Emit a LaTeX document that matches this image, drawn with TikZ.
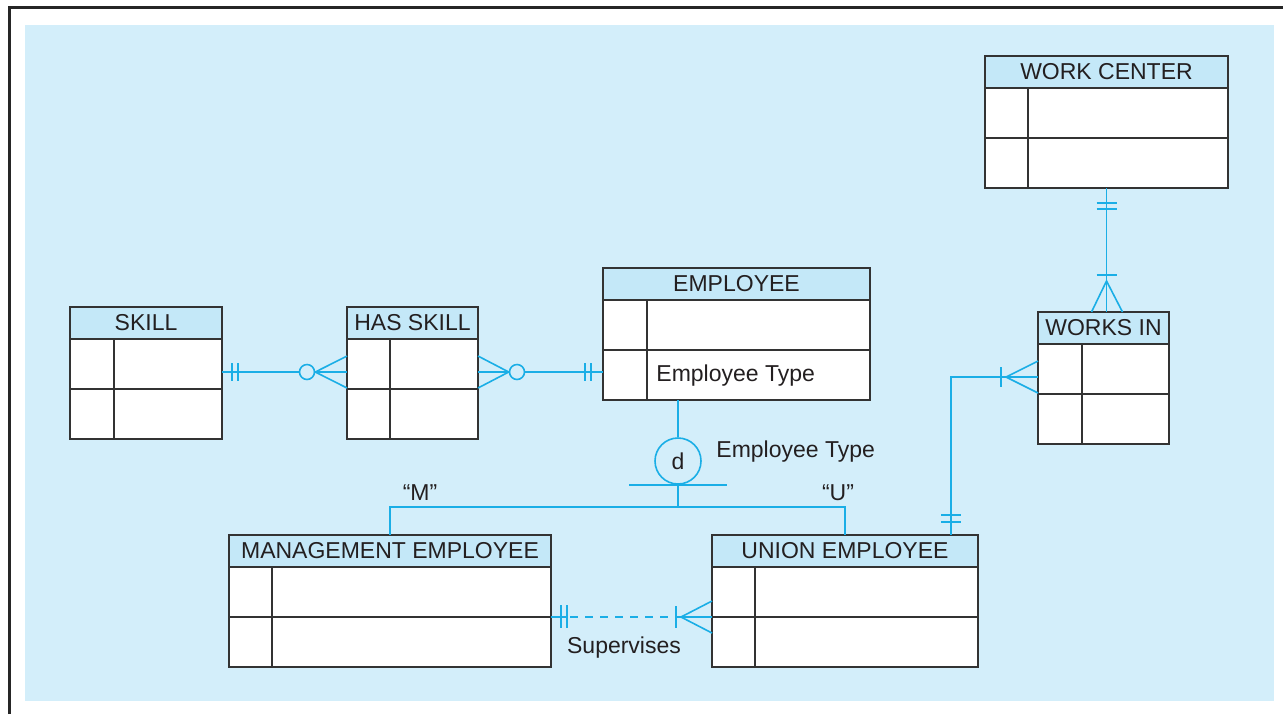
\documentclass[tikz,border=0pt]{standalone}
\usepackage{fontspec}
\setmainfont{Liberation Sans}
\usetikzlibrary{calc,positioning}

\definecolor{bgblue}{RGB}{211,238,250}
\definecolor{headblue}{RGB}{196,232,248}
\definecolor{relcyan}{RGB}{26,174,230}
\definecolor{boxgray}{RGB}{51,51,51}
\definecolor{txtgray}{RGB}{35,31,32}

\tikzset{
  enthead/.style={draw=boxgray, fill=headblue, line width=0.8pt, inner sep=0pt,
    outer sep=0pt, minimum height=16pt, text=txtgray},
  entbody/.style={draw=boxgray, fill=white, line width=0.8pt, inner sep=0pt,
    outer sep=0pt, minimum height=50pt},
  entline/.style={draw=boxgray, line width=0.8pt},
  rel/.style={draw=relcyan, line width=0.8pt},
  optcirc/.style={circle, draw=relcyan, fill=bgblue, line width=0.8pt,
    inner sep=0pt, minimum size=7.5pt},
  dcirc/.style={circle, draw=relcyan, fill=bgblue, line width=0.8pt,
    inner sep=0pt, minimum size=23pt, text=txtgray},
  lbl/.style={inner sep=0pt, text=txtgray}
}

% entity box: name, left x, top y, width, key column, title
\newcommand\entity[6]{%
  \node[enthead, minimum width=#4*0.5pt, anchor=north west] (#1) at (#2,#3) {#6};
  \node[entbody, minimum width=#4*0.5pt, anchor=north] (#1-b) at (#1.south) {};
  \draw[entline] (#1-b.west) -- (#1-b.east);
  \draw[entline] ($(#1-b.north west)+(#5,0)$) -- ($(#1-b.south west)+(#5,0)$);
}

\begin{document}
\begin{tikzpicture}[x=0.5pt, y=-0.5pt, font=\fontsize{11.5}{13}\selectfont,
  line cap=butt]
  \useasboundingbox (0,0) rectangle (1283,714);
  \fill[bgblue] (25,25) rectangle (1274,701);
  \draw[line width=1.5pt, black!85] (9,714) -- (9,7) -- (1283,7);

  % entities
  \entity{wc}{985}{56}{243}{43}{WORK CENTER}
  \entity{emp}{603}{268}{267}{44}{EMPLOYEE}
  \entity{skill}{70}{307}{152}{44}{SKILL}
  \entity{hs}{347}{307}{131}{43}{HAS SKILL}
  \entity{wi}{1038}{312}{131}{44}{WORKS IN}
  \entity{me}{229}{535}{322}{43}{MANAGEMENT EMPLOYEE}
  \entity{ue}{712}{535}{266}{43}{UNION EMPLOYEE}
  \node[lbl, anchor=west] (emptype) at (656,376) {Employee Type};

  % SKILL -- HAS SKILL
  \coordinate (y1) at (0,372);
  \coordinate (c1a) at (skill-b.east |- y1);
  \coordinate (c1b) at (hs-b.west |- y1);
  \node[optcirc] (o1) at ($(c1a)+(85,0)$) {};
  \draw[rel] (c1a) -- (o1.west);
  \draw[rel] ($(c1a)+(10,-9)$) -- ($(c1a)+(10,9)$);
  \draw[rel] ($(c1a)+(16,-9)$) -- ($(c1a)+(16,9)$);
  \draw[rel] ($(c1b)+(0,-16)$) -- (o1.east) -- ($(c1b)+(0,16)$);
  \draw[rel] (o1.east) -- (c1b);

  % HAS SKILL -- EMPLOYEE
  \coordinate (c2a) at (hs-b.east |- y1);
  \coordinate (c2b) at (emp-b.west |- y1);
  \node[optcirc] (o2) at ($(c2a)+(39,0)$) {};
  \draw[rel] ($(c2a)+(0,-16)$) -- (o2.west) -- ($(c2a)+(0,16)$);
  \draw[rel] (c2a) -- (o2.west);
  \draw[rel] (o2.east) -- (c2b);
  \draw[rel] ($(c2b)+(-18,-9)$) -- ($(c2b)+(-18,9)$);
  \draw[rel] ($(c2b)+(-12,-9)$) -- ($(c2b)+(-12,9)$);

  % subtypes of EMPLOYEE
  \node[dcirc] (d) at (678,461) {d};
  \draw[rel] (d.north) -- (d.north |- emp-b.south);
  \draw[rel] ($(d.south)+(-49,0)$) -- ($(d.south)+(49,0)$);
  \coordinate (split) at ($(d.south)+(0,22)$);
  \draw[rel] (d.south) -- (split);
  \draw[rel] (me.north) |- (split) -| (ue.north);
  \node[lbl, anchor=west] (dtype) at (716,452) {Employee Type};
  \node[lbl] (mval) at (420,493) {“M”};
  \node[lbl] (uval) at (838,493) {“U”};

  % WORK CENTER -- WORKS IN
  \coordinate (c4a) at (wc-b.south);
  \coordinate (c4b) at (wc-b.south |- wi.north);
  \draw[rel] (c4a) -- (c4b);
  \draw[rel] ($(c4a)+(-10,15)$) -- ($(c4a)+(10,15)$);
  \draw[rel] ($(c4a)+(-10,21)$) -- ($(c4a)+(10,21)$);
  \draw[rel] ($(c4b)+(-10,-37)$) -- ($(c4b)+(10,-37)$);
  \draw[rel] ($(c4b)+(-15,0)$) -- ($(c4b)+(0,-31)$) -- ($(c4b)+(16,0)$);

  % UNION EMPLOYEE -- WORKS IN
  \coordinate (y5) at (951,377);
  \coordinate (c5a) at (ue.north -| y5);
  \coordinate (c5b) at (wi-b.west |- y5);
  \draw[rel] (c5a) |- (c5b);
  \draw[rel] ($(c5a)+(-10,-13)$) -- ($(c5a)+(10,-13)$);
  \draw[rel] ($(c5a)+(-10,-20)$) -- ($(c5a)+(10,-20)$);
  \draw[rel] ($(c5b)+(-37,-10)$) -- ($(c5b)+(-37,10)$);
  \draw[rel] ($(c5b)+(0,-16)$) -- ($(c5b)+(-32,0)$) -- ($(c5b)+(0,16)$);

  % MANAGEMENT EMPLOYEE -- UNION EMPLOYEE
  \coordinate (y6) at (0,617);
  \coordinate (c6a) at (me-b.east |- y6);
  \coordinate (c6b) at (ue-b.west |- y6);
  \draw[rel] (c6a) -- ($(c6a)+(16,0)$);
  \draw[rel, dash pattern=on 4pt off 3.5pt] ($(c6a)+(19,0)$) -- ($(c6b)+(-36,0)$);
  \draw[rel] ($(c6b)+(-36,0)$) -- (c6b);
  \draw[rel] ($(c6a)+(10,-12)$) -- ($(c6a)+(10,11)$);
  \draw[rel] ($(c6a)+(16,-12)$) -- ($(c6a)+(16,11)$);
  \draw[rel] ($(c6b)+(-36,-11)$) -- ($(c6b)+(-36,11)$);
  \draw[rel] ($(c6b)+(0,-16)$) -- ($(c6b)+(-31,0)$) -- ($(c6b)+(0,16)$);
  \node[lbl] (sup) at (624,648) {Supervises};
\end{tikzpicture}
\end{document}
